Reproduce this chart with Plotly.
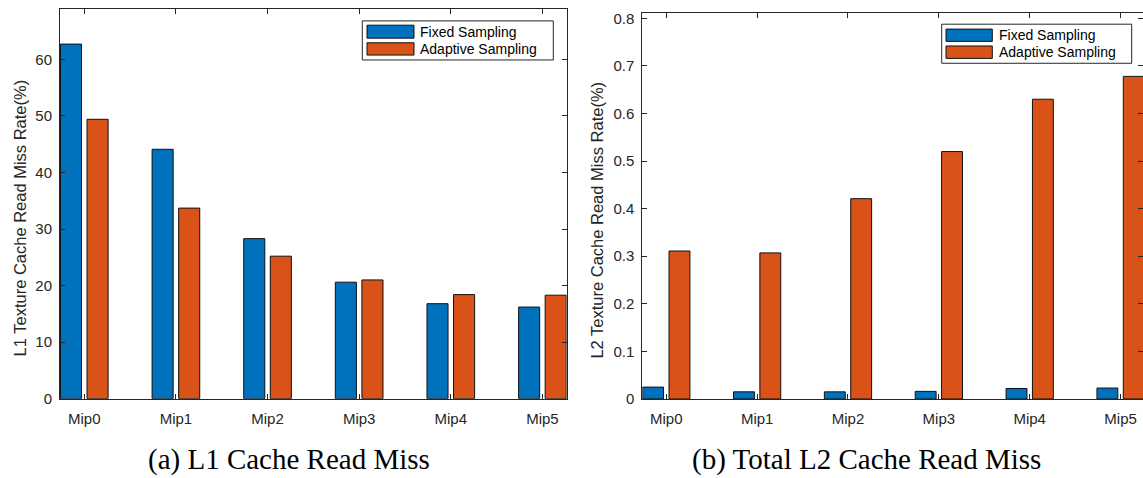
import plotly.graph_objects as go

# ---- data ----
categories = ["Mip0", "Mip1", "Mip2", "Mip3", "Mip4", "Mip5"]
series_names = ["Fixed Sampling", "Adaptive Sampling"]
l1_fixed = [62.7, 44.1, 28.3, 20.6, 16.8, 16.2]
l1_adaptive = [49.4, 33.7, 25.2, 21.0, 18.4, 18.3]
l2_fixed = [0.025, 0.015, 0.015, 0.016, 0.022, 0.023]
l2_adaptive = [0.311, 0.307, 0.421, 0.520, 0.630, 0.678]
l1_yticks = [0, 10, 20, 30, 40, 50, 60]
l2_yticks = [0, 0.1, 0.2, 0.3, 0.4, 0.5, 0.6, 0.7, 0.8]
captions = ["(a) L1 Cache Read Miss", "(b) Total L2 Cache Read Miss"]
ytitles = ["L1 Texture Cache Read Miss Rate(%)", "L2 Texture Cache Read Miss Rate(%)"]

# ---- style ----
W, H = 1143, 478
BLUE = "#0072BD"
ORANGE = "#D95319"
AX = "#262626"
SANS = "Liberation Sans, Arial, sans-serif"
SERIF = "Liberation Serif, Times New Roman, serif"
colors = [BLUE, ORANGE]


def px(x):
    return x / W


def py(y):
    return 1 - y / H


fig = go.Figure()

for (vals_a, vals_b), (xa, ya) in [((l1_fixed, l1_adaptive), ("x", "y")),
                                   ((l2_fixed, l2_adaptive), ("x2", "y2"))]:
    for name, vals, col in zip(series_names, (vals_a, vals_b), colors):
        fig.add_trace(go.Bar(
            x=categories, y=vals, name=name, xaxis=xa, yaxis=ya,
            marker=dict(color=col, line=dict(color="#111111", width=1)),
            showlegend=False,
        ))

tickfont = dict(family=SANS, size=15, color=AX)
common_x = dict(
    type="category", showline=True, linecolor=AX, linewidth=1,
    ticks="inside", ticklen=5, tickcolor=AX, tickwidth=1,
    tickfont=tickfont, showgrid=False, zeroline=False, fixedrange=True,
    ticklabelstandoff=6,
)
common_y = dict(
    showline=True, linecolor=AX, linewidth=1,
    ticks="inside", ticklen=5, tickcolor=AX, tickwidth=1,
    tickfont=tickfont, showgrid=False, zeroline=False, fixedrange=True,
    ticklabelstandoff=4,
)

fig.update_layout(
    width=W, height=H,
    margin=dict(l=0, r=0, t=0, b=0),
    paper_bgcolor="white", plot_bgcolor="white",
    barmode="group", bargap=0.42, bargroupgap=0.207,
    xaxis=dict(common_x, domain=[px(60), px(566.7)], range=[-0.265, 5.265],
               anchor="y", mirror="ticks"),
    yaxis=dict(common_y, domain=[py(405), py(6)], range=[0, 68.93],
               tickvals=l1_yticks, anchor="x", mirror="ticks"),
    xaxis2=dict(common_x, domain=[px(642.3), 1.0], range=[-0.264, 5.247],
                anchor="y2", mirror="ticks"),
    yaxis2=dict(common_y, domain=[py(405.3), py(10)], range=[0, 0.8117],
                tickvals=l2_yticks, anchor="x2", mirror=False),
    # tick marks along the right edge of the second panel
    yaxis3=dict(overlaying="y2", side="right", anchor="x2",
                range=[0, 0.8117], tickvals=l2_yticks, showticklabels=False,
                ticks="inside", ticklen=5, tickcolor=AX, tickwidth=1,
                showline=False, showgrid=False, zeroline=False, fixedrange=True),
)
# empty trace so the overlay axis is rendered
fig.add_trace(go.Scatter(x=[None], y=[None], xaxis="x2", yaxis="y3",
                         showlegend=False, hoverinfo="skip"))

shapes = []
annotations = []

# legends: framed box with wide colour patches
legend_specs = [
    dict(box=(362.3, 18.3, 553.3, 58.3), px0=367, px1=414,
         rows=[(22.7, 36.0), (40.7, 53.3)], tx=417.7),
    dict(box=(941.7, 21.7, 1131.7, 61.7), px0=946, px1=992.3,
         rows=[(26.7, 39.3), (44.0, 56.7)], tx=996.7),
]
for spec in legend_specs:
    x0, y0, x1, y1 = spec["box"]
    shapes.append(dict(type="rect", xref="paper", yref="paper",
                       x0=px(x0), x1=px(x1), y0=py(y1), y1=py(y0),
                       line=dict(color=AX, width=1), fillcolor="white", layer="above"))
    for (r0, r1), col, name in zip(spec["rows"], colors, series_names):
        shapes.append(dict(type="rect", xref="paper", yref="paper",
                           x0=px(spec["px0"]), x1=px(spec["px1"]),
                           y0=py(r1), y1=py(r0),
                           line=dict(color="#111111", width=1), fillcolor=col,
                           layer="above"))
        annotations.append(dict(xref="paper", yref="paper", x=px(spec["tx"]),
                                y=py((r0 + r1) / 2), text=name, showarrow=False,
                                xanchor="left", yanchor="middle",
                                font=dict(family=SANS, size=14, color="#000000")))

# y-axis titles
for xc, yc, t in [(19.5, 220, ytitles[0]), (596.7, 222, ytitles[1])]:
    annotations.append(dict(xref="paper", yref="paper", x=px(xc), y=py(yc),
                            text=t, textangle=-90, showarrow=False,
                            xanchor="center", yanchor="middle",
                            font=dict(family=SANS, size=16.5, color=AX)))

# panel captions
for xc, t in [(289.0, captions[0]), (867.0, captions[1])]:
    annotations.append(dict(xref="paper", yref="paper", x=px(xc), y=py(467),
                            text=t, showarrow=False, xanchor="center",
                            yanchor="middle",
                            font=dict(family=SERIF, size=29, color="#000000")))

fig.update_layout(shapes=shapes, annotations=annotations)

fig.write_html("out.html")
